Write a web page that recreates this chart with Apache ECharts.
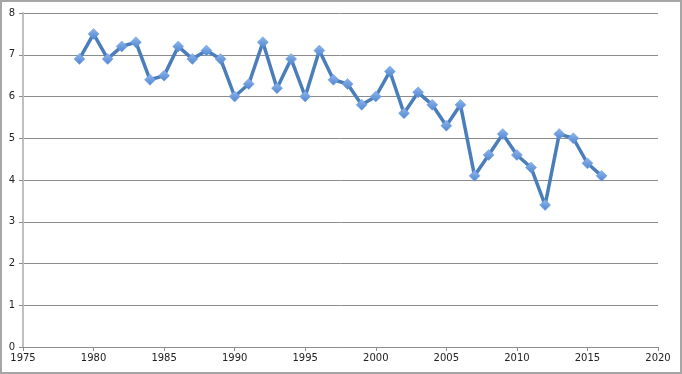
<!DOCTYPE html>
<html>
<head>
<meta charset="utf-8">
<script src="https://cdn.jsdelivr.net/npm/echarts@6/dist/echarts.min.js"></script>
<style>
    html, body {
        margin: 0;
        padding: 0;
        background: #fff;
    }
    #main {
        width: 678px;
        height: 370px;
        border: 2px solid #a6a6a6;
    }
</style>
</head>
<body>
<div id="main"></div>
<script>
    var years = [1979, 1980, 1981, 1982, 1983, 1984, 1985, 1986, 1987, 1988,
                 1989, 1990, 1991, 1992, 1993, 1994, 1995, 1996, 1997, 1998,
                 1999, 2000, 2001, 2002, 2003, 2004, 2005, 2006, 2007, 2008,
                 2009, 2010, 2011, 2012, 2013, 2014, 2015, 2016];
    var values = [6.9, 7.5, 6.9, 7.2, 7.3, 6.4, 6.5, 7.2, 6.9, 7.1,
                  6.9, 6.0, 6.3, 7.3, 6.2, 6.9, 6.0, 7.1, 6.4, 6.3,
                  5.8, 6.0, 6.6, 5.6, 6.1, 5.8, 5.3, 5.8, 4.1, 4.6,
                  5.1, 4.6, 4.3, 3.4, 5.1, 5.0, 4.4, 4.1];

    var points = [];
    for (var i = 0; i < years.length; i++) {
        points.push([years[i], values[i]]);
    }

    var chart = echarts.init(document.getElementById('main'));
    var labelStyle = {
        color: '#222',
        fontSize: 10,
        fontFamily: 'DejaVu Sans'
    };

    chart.setOption({
        animation: false,
        grid: {
            left: 21,
            right: 22,
            top: 11,
            bottom: 25
        },
        xAxis: {
            type: 'value',
            min: 1975,
            max: 2020,
            interval: 5,
            axisLine: {lineStyle: {color: '#8c8c8c', width: 1}},
            axisTick: {show: true, length: 4, lineStyle: {color: '#8c8c8c'}},
            axisLabel: Object.assign({
                margin: 6,
                formatter: function (v) { return String(v); }
            }, labelStyle),
            splitLine: {show: false}
        },
        yAxis: {
            type: 'value',
            min: 0,
            max: 8,
            interval: 1,
            axisLine: {show: true, lineStyle: {color: '#c0c0c0', width: 2}},
            axisTick: {show: true, length: 4, lineStyle: {color: '#8c8c8c'}},
            axisLabel: Object.assign({margin: 8}, labelStyle),
            splitLine: {lineStyle: {color: '#8c8c8c', width: 1}}
        },
        series: [{
            type: 'line',
            data: points,
            symbol: 'diamond',
            symbolSize: 11,
            lineStyle: {color: '#4a7ebb', width: 3.5},
            itemStyle: {
                color: new echarts.graphic.LinearGradient(0, 0, 0, 1, [
                    {offset: 0, color: '#8fb6ec'},
                    {offset: 1, color: '#4f86d0'}
                ]),
                borderColor: '#6b9be0',
                borderWidth: 0.5
            }
        }]
    });
</script>
</body>
</html>
